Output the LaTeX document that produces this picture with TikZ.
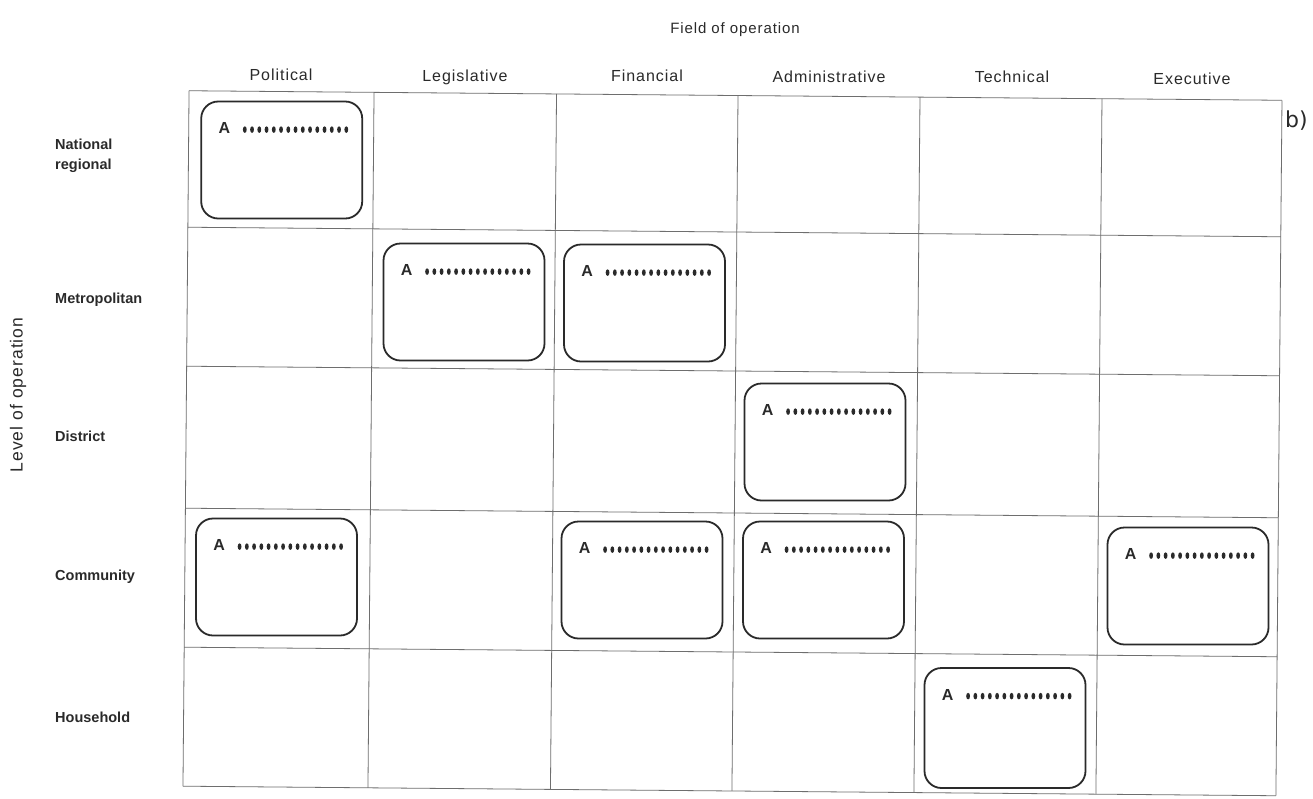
\documentclass[tikz,border=0pt]{standalone}
\usepackage{fontspec}
\setmainfont{Liberation Sans}
\newfontfamily\headfont[LetterSpace=6]{Liberation Sans}
\newfontfamily\sidefont{Liberation Sans}
\newfontfamily\tagfont{DejaVu Sans}
\definecolor{ink}{HTML}{2A2A2A}
\definecolor{rule}{HTML}{6E6E6E}

% one entry of the matrix: rounded box with "A" and a dotted line
\newcommand{\fieldentry}[4][117pt]{%
  \node[fieldbox, minimum height=#1] (#2) at (#3,#4) {};
  \node[boxletter] (#2-A) at ([xshift=18pt,yshift=-27.5pt]#2.north west) {A};
  \foreach \k in {0,...,14}
    \fill[ink] ([xshift=44.5pt+7.25pt*\k, yshift=-29pt]#2.north west) ellipse (1.9pt and 3.3pt);
}

\begin{document}
\begin{tikzpicture}[x=1pt,y=-1pt,
  gridline/.style={draw=rule, line width=0.8pt},
  fieldbox/.style={draw=ink, line width=1.8pt, rounded corners=17pt,
    minimum width=161pt, inner sep=0pt},
  colhead/.style={font=\headfont\fontsize{16}{18}\selectfont, text=ink,
    inner sep=0pt, anchor=base},
  rowhead/.style={font=\sidefont\bfseries\fontsize{14.5}{20}\selectfont, text=ink,
    anchor=west, align=left, inner sep=0pt},
  boxletter/.style={font=\bfseries\fontsize{16}{16}\selectfont, text=ink,
    inner sep=0pt, anchor=west}]

\useasboundingbox (0,0) rectangle (1313,798);
\fill[white] (0,0) rectangle (1313,798);

% the 6 x 5 grid (slightly tilted sheet)
\begin{scope}[rotate around={-0.5:(735,440)}]
  \foreach \gx in {186,371,553.5,735,917,1099,1279}
    \draw[gridline] (\gx,95.5) -- (\gx,791);
  \foreach \gy in {95.5,232,371,513,652,791}
    \draw[gridline] (186,\gy) -- (1279,\gy);
\end{scope}

% axis titles
\node[colhead, font=\headfont\fontsize{15}{18}\selectfont] (field) at (735,33) {Field of operation};
\node[colhead, anchor=center, rotate=90, font=\headfont\fontsize{17.5}{20}\selectfont] (level) at (18,395) {Level of operation};

% column headings
\node[colhead] (political)      at (281,80)   {Political};
\node[colhead] (legislative)    at (465,81)   {Legislative};
\node[colhead] (financial)      at (647,81.5) {Financial};
\node[colhead] (administrative) at (829,82)   {Administrative};
\node[colhead] (technical)      at (1012,82.5){Technical};
\node[colhead] (executive)      at (1192,84)  {Executive};

% row headings
\node[rowhead] (national)     at (55,156) {National\\regional};
\node[rowhead] (metropolitan) at (55,300) {Metropolitan};
\node[rowhead] (district)     at (55,436) {District};
\node[rowhead] (community)    at (55,577) {Community};
\node[rowhead] (household)    at (55,717) {Household};

% entries
\fieldentry{natpol}{281.7}{160}
\fieldentry{metleg}{464}{302}
\fieldentry{metfin}{644.5}{303}
\fieldentry{disadm}{825}{442}
\fieldentry{compol}{276.5}{577}
\fieldentry{comfin}{642}{580}
\fieldentry{comadm}{823.5}{580}
\fieldentry{comexe}{1188}{586}
\fieldentry[120pt]{houtec}{1005}{728}

% panel tag
\node[font=\tagfont\fontsize{22}{24}\selectfont, text=ink, anchor=west, inner sep=0pt] (tag) at (1285,121) {b)};
\end{tikzpicture}
\end{document}
